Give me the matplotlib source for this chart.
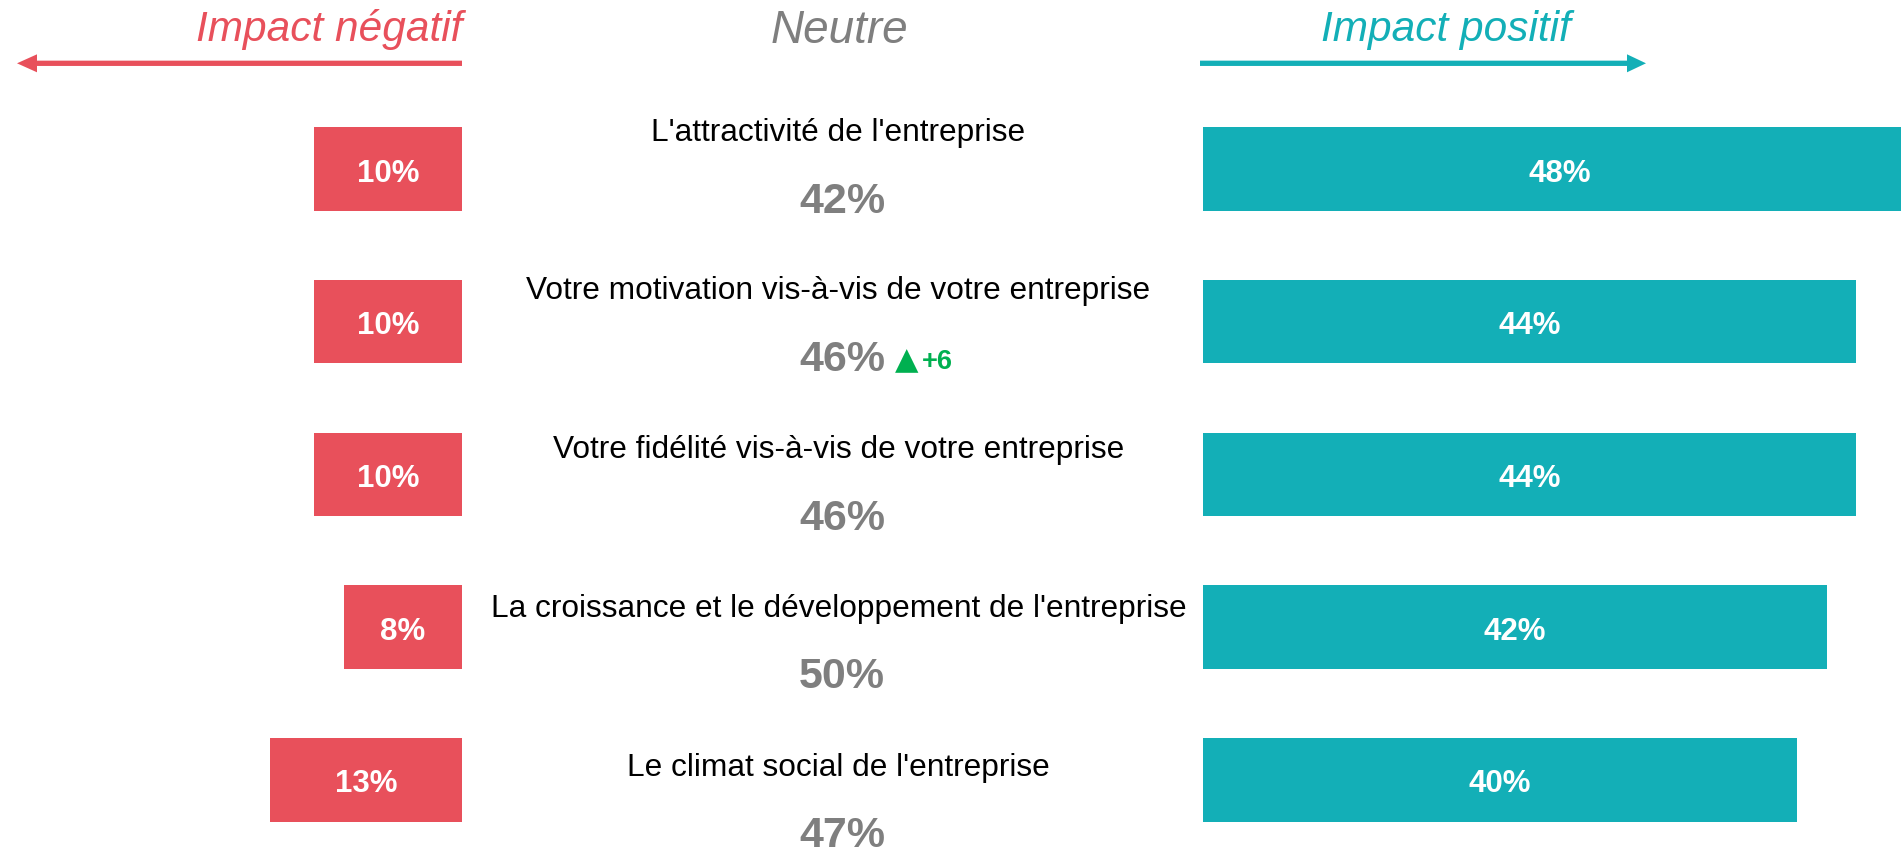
import matplotlib
matplotlib.use("Agg")
import matplotlib.pyplot as plt
from matplotlib.patches import FancyArrow

plt.rcParams["font.family"] = ["Liberation Sans", "DejaVu Sans"]

# Survey results (%)
categories = [
    "L'attractivité de l'entreprise",
    "Votre motivation vis-à-vis de votre entreprise",
    "Votre fidélité vis-à-vis de votre entreprise",
    "La croissance et le développement de l'entreprise",
    "Le climat social de l'entreprise",
]
negative = [10, 10, 10, 8, 13]
neutral = [42, 46, 46, 50, 47]
positive = [48, 44, 44, 42, 40]
evolution = [None, "+6", None, None, None]

header_neg = "Impact négatif"
header_neu = "Neutre"
header_pos = "Impact positif"

RED = "#E8505B"
TEAL = "#13AFB7"
GREY = "#7F7F7F"
GREEN = "#00B050"

W, H = 1901, 851
fig = plt.figure(figsize=(W / 100, H / 100), dpi=100)

# Row layout (pixels)
row0, row_step = 169.0, 152.7
bar_h = 83.5 / row_step
label_drop = 12.7 / row_step  # baseline of in-bar labels below bar centre
neg_right = 462
pos_left = 1203

n = len(categories)
idx = list(range(n))
y_top = -row0 / row_step
y_bot = (H - row0) / row_step


def bar_panel(rect, xlim, values, color):
    a = fig.add_axes(rect)
    a.set_xlim(*xlim)
    a.set_ylim(y_bot, y_top)
    a.barh(idx, values, height=bar_h, color=color)
    for i, v in zip(idx, values):
        a.text(v / 2, i + label_drop, f"{v}%", color="white", fontsize=22.5,
               fontweight="bold", ha="center", va="baseline")
    a.axis("off")
    return a


# Negative bars grow leftwards from the centre column
bar_panel([0, 0, neg_right / W, 1], (neg_right / 14.8, 0), negative, RED)
# Positive bars grow rightwards
bar_panel([pos_left / W, 0, (W - pos_left) / W, 1], (0, (W - pos_left) / 14.85),
          positive, TEAL)

# Overlay in pixel coordinates for headers, arrows and centre texts
ax = fig.add_axes([0, 0, 1, 1])
ax.set_xlim(0, W)
ax.set_ylim(H, 0)
ax.axis("off")

ax.text(neg_right, 41, header_neg, color=RED, fontsize=30.5, style="italic",
        ha="right", va="baseline")
ax.text(839.5, 42.7, header_neu, color=GREY, fontsize=33, style="italic",
        ha="center", va="baseline")
ax.text(1446, 41, header_pos, color=TEAL, fontsize=30.5, style="italic",
        ha="center", va="baseline")

ax.add_patch(FancyArrow(neg_right, 63.3, 17 - neg_right, 0, width=5.3,
                        head_width=18, head_length=20, length_includes_head=True,
                        color=RED, lw=0))
ax.add_patch(FancyArrow(1200, 63.3, 1646 - 1200, 0, width=5.3,
                        head_width=18, head_length=19, length_includes_head=True,
                        color=TEAL, lw=0))

label_base0, label_step = 140.7, 158.8
value_base0, value_step = 213.0, 158.4
for i, (cat, neu, evo) in enumerate(zip(categories, neutral, evolution)):
    ax.text(838.5, label_base0 + i * label_step, cat, color="black", fontsize=22.8,
            ha="center", va="baseline")
    vb = value_base0 + i * value_step
    ax.text(842, vb, f"{neu}%", color=GREY, fontsize=31,
            fontweight="bold", ha="center", va="baseline")
    if evo:
        ax.text(895, vb - 2, "\u25B2", color=GREEN, fontsize=22,
                ha="left", va="baseline", family=["DejaVu Sans"])
        ax.text(922, vb - 2, evo, color=GREEN, fontsize=19.5,
                fontweight="bold", ha="left", va="baseline")

fig.savefig("out.png", dpi=100, facecolor="white")
